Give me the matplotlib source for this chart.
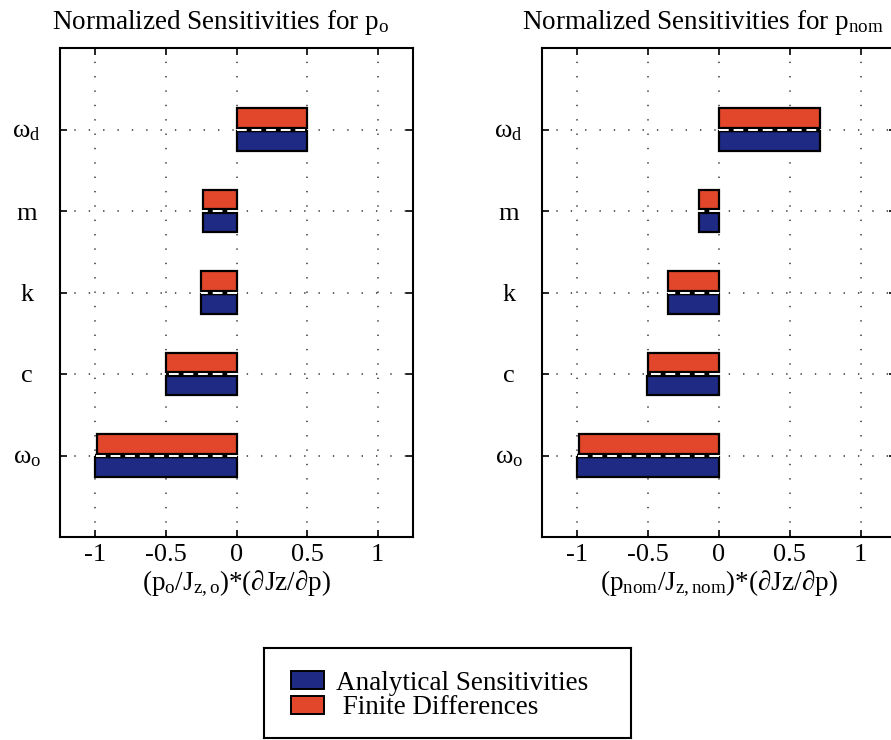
import matplotlib
matplotlib.use("Agg")
import matplotlib.pyplot as plt
from matplotlib.patches import Patch
import numpy as np

# ---- data ----
params = [r'$\mathrm{\omega_o}$', 'c', 'k', 'm', r'$\mathrm{\omega_d}$']
left_analytical = [-1.00, -0.50, -0.25, -0.24, 0.50]
left_finite = [-0.99, -0.50, -0.25, -0.24, 0.50]
right_analytical = [-1.00, -0.51, -0.36, -0.14, 0.71]
right_finite = [-0.99, -0.50, -0.36, -0.14, 0.71]
xticks = [-1, -0.5, 0, 0.5, 1]
xtick_labels = ['-1', '-0.5', '0', '0.5', '1']
titles = [r'Normalized Sensitivities for p$_{\mathrm{o}}$',
          r'Normalized Sensitivities for p$_{\mathrm{nom}}$']
xlabels = [r'(p$_{\mathrm{o}}$/J$_{\mathrm{z,o}}$)*($\mathrm{\partial}$Jz/$\mathrm{\partial}$p)',
           r'(p$_{\mathrm{nom}}$/J$_{\mathrm{z,nom}}$)*($\mathrm{\partial}$Jz/$\mathrm{\partial}$p)']
legend_labels = ['Analytical Sensitivities', ' Finite Differences']

RED = '#E2472B'
BLUE = '#1E2A84'

plt.rcParams['font.family'] = ['Liberation Serif', 'DejaVu Serif']
plt.rcParams['mathtext.fontset'] = 'custom'
plt.rcParams['mathtext.rm'] = 'Liberation Serif'
plt.rcParams['mathtext.it'] = 'Liberation Serif:italic'
plt.rcParams['mathtext.bf'] = 'Liberation Serif:bold'

fig = plt.figure(figsize=(8.91, 7.40), dpi=100)
W, H = 891, 740
ax_l = fig.add_axes([60 / W, (H - 537) / H, 353 / W, 489 / H])
ax_r = fig.add_axes([542 / W, (H - 537) / H, 354 / W, 489 / H])

ypos = np.arange(1, len(params) + 1)
bh = 0.24
off = 0.14

for ax, ana, fd, title, xl in [(ax_l, left_analytical, left_finite, titles[0], xlabels[0]),
                               (ax_r, right_analytical, right_finite, titles[1], xlabels[1])]:
    ax.set_xlim(-1.25, 1.25)
    ax.set_ylim(0, 6)
    ax.set_xticks(xticks)
    ax.set_xticklabels(xtick_labels, fontsize=19)
    ax.set_yticks(ypos)
    ax.set_yticklabels(params, fontsize=19, ha='center')
    ax.tick_params(axis='both', direction='in', length=5, width=1.2,
                   top=True, right=True, color='black')
    ax.tick_params(axis='x', pad=5)
    ax.tick_params(axis='y', pad=24)
    ax.grid(True, linestyle=(0, (0.9, 8.5)), linewidth=1.1, color='#333333')
    ax.set_axisbelow(True)
    ax.barh(ypos - off, ana, height=bh, color=BLUE, edgecolor='black', linewidth=1.6, zorder=3)
    ax.barh(ypos + off, fd, height=bh, color=RED, edgecolor='black', linewidth=1.6, zorder=3)
    ax.hlines(ypos, 0, ana, colors='black', linewidth=3.2, zorder=4)
    ax.hlines(ypos, 0, ana, colors='white', linewidth=1.4, linestyles=(0, (5, 2.5)), zorder=5)
    for s in ax.spines.values():
        s.set_linewidth(1.5)
    ax.set_title(title, fontsize=19.5, pad=14, x=0.455)
    ax.set_xlabel(xl, fontsize=19.5, labelpad=2)

# legend box
lax = fig.add_axes([264 / W, (H - 738) / H, 367 / W, 90 / H])
lax.set_xticks([])
lax.set_yticks([])
for s in lax.spines.values():
    s.set_linewidth(1.5)
handles = [Patch(facecolor=BLUE, edgecolor='black', linewidth=1.4),
           Patch(facecolor=RED, edgecolor='black', linewidth=1.4)]
lax.legend(handles, legend_labels, loc='center left',
           bbox_to_anchor=((291 - 264) / 367, (738 - 695.5) / 90),
           frameon=False, fontsize=19.5,
           handlelength=1.2, handleheight=0.6, handletextpad=0.45, labelspacing=0.0,
           borderpad=0.0, borderaxespad=0.0)

fig.savefig('out.png', dpi=100)
